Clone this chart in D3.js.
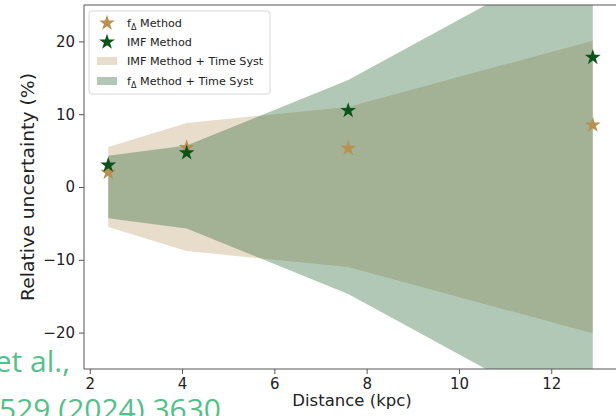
<!DOCTYPE html>
<style>
  body { margin: 0; background: #fff; }
  text { font-family: "DejaVu Sans", sans-serif; }
  .tick text { font-size: 15px; fill: #222; }
  .axis path, .axis line { stroke: #555; }
  .note { font-family: "Open Sans", "Noto Sans", sans-serif; font-size: 30px; fill: #55c08a; }
</style>
<svg width="616" height="416"></svg>
<script src="https://d3js.org/d3.v7.min.js"></script>
<script>
// distances (kpc)
var distance = [2.4, 4.1, 7.6, 12.9];
// star points (%)
var fDeltaPts = [2.0, 5.4, 5.3, 8.5];
var imfPts = [3.0, 4.7, 10.5, 17.8];
// half widths of the shaded bands (%)
var imfSyst = [5.5, 8.8, 11.0, 20.1];
var fDeltaSyst = [4.3, 5.7, 14.7, 33.0];
var xTicks = [2, 4, 6, 8, 10, 12];
var yTicks = [-20, -10, 0, 10, 20];

var svg = d3.select("svg");
var pLeft = 84, pRight = 617, pTop = 5, pBottom = 369;

var x = d3.scaleLinear().domain([1.875, 13.425]).range([pLeft, pRight]);
var y = d3.scaleLinear().domain([-25, 25]).range([pBottom, pTop]);

svg.append("clipPath").attr("id", "plot")
  .append("rect").attr("x", pLeft).attr("y", pTop)
  .attr("width", pRight - pLeft).attr("height", pBottom - pTop);

var area = d3.area()
    .x(function(d) { return x(d.x); })
    .y0(function(d) { return y(-d.h); })
    .y1(function(d) { return y(d.h); });

function band(h) {
  return distance.map(function(v, i) { return {x: v, h: h[i]}; });
}

var bands = svg.append("g").attr("clip-path", "url(#plot)");
bands.append("path").datum(band(imfSyst))
  .attr("fill", "#c5a77d").attr("fill-opacity", 0.4).attr("d", area);
bands.append("path").datum(band(fDeltaSyst))
  .attr("fill", "#23612f").attr("fill-opacity", 0.35).attr("d", area);

var star = d3.symbol().type(d3.symbolStar).size(78);

svg.append("g").selectAll("path").data(distance).enter().append("path")
  .attr("transform", function(d, i) { return "translate(" + x(d) + "," + y(fDeltaPts[i]) + ")"; })
  .attr("fill", "#b8904f").attr("d", star);
svg.append("g").selectAll("path").data(distance).enter().append("path")
  .attr("transform", function(d, i) { return "translate(" + x(d) + "," + y(imfPts[i]) + ")"; })
  .attr("fill", "#0b531a").attr("d", star);

// axes
var xAxis = svg.append("g").attr("class", "axis")
  .attr("transform", "translate(0," + pBottom + ")")
  .call(d3.axisBottom(x).tickValues(xTicks).tickSize(5).tickPadding(4));
var yAxis = svg.append("g").attr("class", "axis")
  .attr("transform", "translate(" + pLeft + ",0)")
  .call(d3.axisLeft(y).tickValues(yTicks).tickSize(5).tickPadding(4)
    .tickFormat(function(d) { return d < 0 ? "\u2212" + Math.abs(d) : d; }));
xAxis.select(".domain").attr("d", "M" + pLeft + ",0H" + pRight);
yAxis.select(".domain").attr("d", "M0," + pTop + "V" + pBottom);
svg.append("line").attr("x1", pLeft).attr("x2", pRight).attr("y1", pTop).attr("y2", pTop)
  .attr("stroke", "#555");

svg.append("text").attr("x", 352).attr("y", 406)
  .attr("text-anchor", "middle").style("font-size", "16.5px").attr("fill", "#222")
  .text("Distance (kpc)");
svg.append("text").attr("transform", "translate(34," + y(0) + ") rotate(-90)")
  .attr("text-anchor", "middle").style("font-size", "17px").attr("fill", "#222")
  .attr("textLength", 228).attr("lengthAdjust", "spacingAndGlyphs")
  .text("Relative uncertainty (%)");

// legend
var lg = svg.append("g");
lg.append("rect").attr("x", 89).attr("y", 11).attr("width", 181).attr("height", 83)
  .attr("rx", 3).attr("fill", "#fff").attr("fill-opacity", 0.85).attr("stroke", "#d8d8d8");

function label(yy, main, sub, rest) {
  var t = lg.append("text").attr("x", 127).attr("y", yy + 4).style("font-size", "11.2px").attr("fill", "#222");
  t.append("tspan").text(main);
  if (sub) {
    t.append("tspan").attr("dy", 2.5).style("font-size", "8px").text(sub);
    t.append("tspan").attr("dy", -2.5).text(rest);
  }
}
lg.append("path").attr("transform", "translate(107,23)").attr("fill", "#b8904f").attr("d", star);
label(23, "f", "\u0394", " Method");
lg.append("path").attr("transform", "translate(107,42)").attr("fill", "#0b531a").attr("d", star);
label(42, "IMF Method");
lg.append("rect").attr("x", 97).attr("y", 57).attr("width", 20).attr("height", 8)
  .attr("fill", "#c5a77d").attr("fill-opacity", 0.4);
label(61, "IMF Method + Time Syst");
lg.append("rect").attr("x", 97).attr("y", 77).attr("width", 20).attr("height", 8)
  .attr("fill", "#23612f").attr("fill-opacity", 0.35);
label(81, "f", "\u0394", " Method + Time Syst");

// slide text cut by the crop
svg.append("text").attr("class", "note").attr("x", 70).attr("y", 372)
  .attr("text-anchor", "end").text("et al.,");
svg.append("text").attr("class", "note").attr("x", 221).attr("y", 420)
  .attr("text-anchor", "end").text("529 (2024) 3630");
</script>
